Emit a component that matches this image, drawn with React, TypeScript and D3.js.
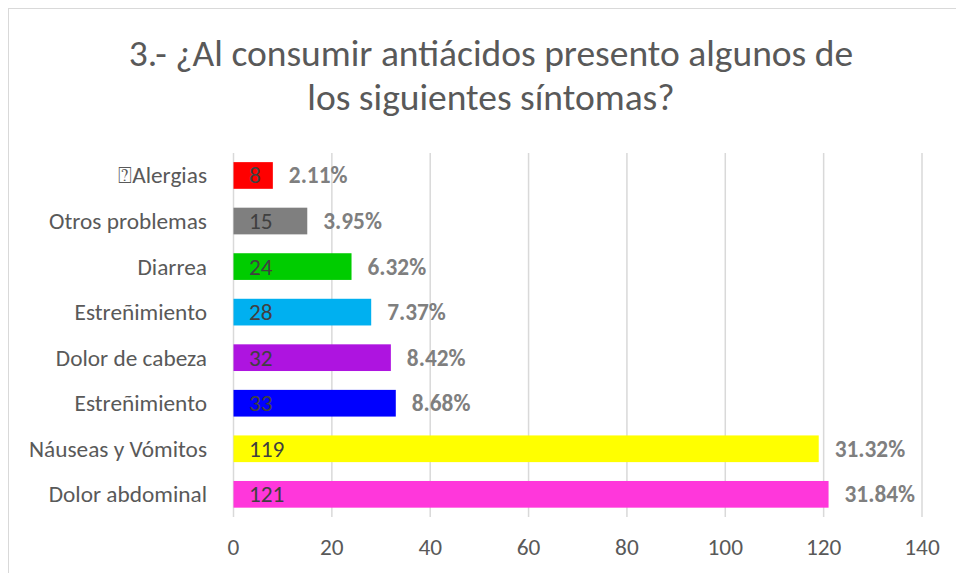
import React from "react";
import * as d3 from "d3";

const categories = [
  "⍰Alergias",
  "Otros problemas",
  "Diarrea",
  "Estreñimiento ",
  "Dolor de cabeza",
  "Estreñimiento",
  "Náuseas y Vómitos",
  "Dolor abdominal",
];
const values = [8, 15, 24, 28, 32, 33, 119, 121];
const percentLabels = ["2.11%", "3.95%", "6.32%", "7.37%", "8.42%", "8.68%", "31.32%", "31.84%"];
const barColors = ["#FF0000", "#7F7F7F", "#00CC00", "#00B0F0", "#AE14E0", "#0000FF", "#FFFF00", "#FF37DB"];
const xTicks = [0, 20, 40, 60, 80, 100, 120, 140];
const titleLines = ["3.- ¿Al consumir antiácidos presento algunos de", "los siguientes síntomas?"];

const W = 956;
const H = 573;
const FONT = "Carlito, Calibri, Lato, 'Open Sans', sans-serif";

export default function App() {
  const x = d3.scaleLinear().domain([0, 140]).range([233.5, 922]);
  const keys = categories.map((c, i) => i + "|" + c);
  const y = d3
    .scaleBand<string>()
    .domain(keys)
    .range([152.7, 517.1])
    .paddingInner(0.414)
    .paddingOuter(0.207);
  const fs = 23.3;

  return (
    <svg
      width={W}
      height={H}
      style={{ position: "absolute", left: 0, top: 0, background: "#fff" }}
      fontFamily={FONT}
    >
      <rect x={8.5} y={8.5} width={980} height={620} fill="#fff" stroke="#D9D9D9" strokeWidth={1} />
      {titleLines.map((t, i) => (
        <text key={t} x={491} y={66 + i * 44} textAnchor="middle" fontSize={37.5} fill="#595959">
          {t}
        </text>
      ))}
      {xTicks.map((t) => (
        <g key={t}>
          <line x1={x(t)} x2={x(t)} y1={153} y2={517} stroke="#D9D9D9" strokeWidth={1.5} />
          <text x={x(t)} y={555} textAnchor="middle" fontSize={fs} fill="#595959">
            {t}
          </text>
        </g>
      ))}
      {keys.map((k, i) => {
        const y0 = y(k)!;
        const bw = y.bandwidth();
        const cy = y0 + bw / 2;
        return (
          <g key={k}>
            <rect x={x(0)} y={y0} width={x(values[i]) - x(0)} height={bw} fill={barColors[i]} />
            <text x={207} y={cy + 8} textAnchor="end" fontSize={fs} fill="#595959">
              {categories[i]}
            </text>
            <text x={x(0) + 15.5} y={cy + 8} textAnchor="start" fontSize={fs} fill="#404040">
              {values[i]}
            </text>
            <text
              x={x(values[i]) + 16}
              y={cy + 8}
              textAnchor="start"
              fontSize={fs}
              fontWeight="bold"
              fill="#7F7F7F"
            >
              {percentLabels[i]}
            </text>
          </g>
        );
      })}
    </svg>
  );
}
